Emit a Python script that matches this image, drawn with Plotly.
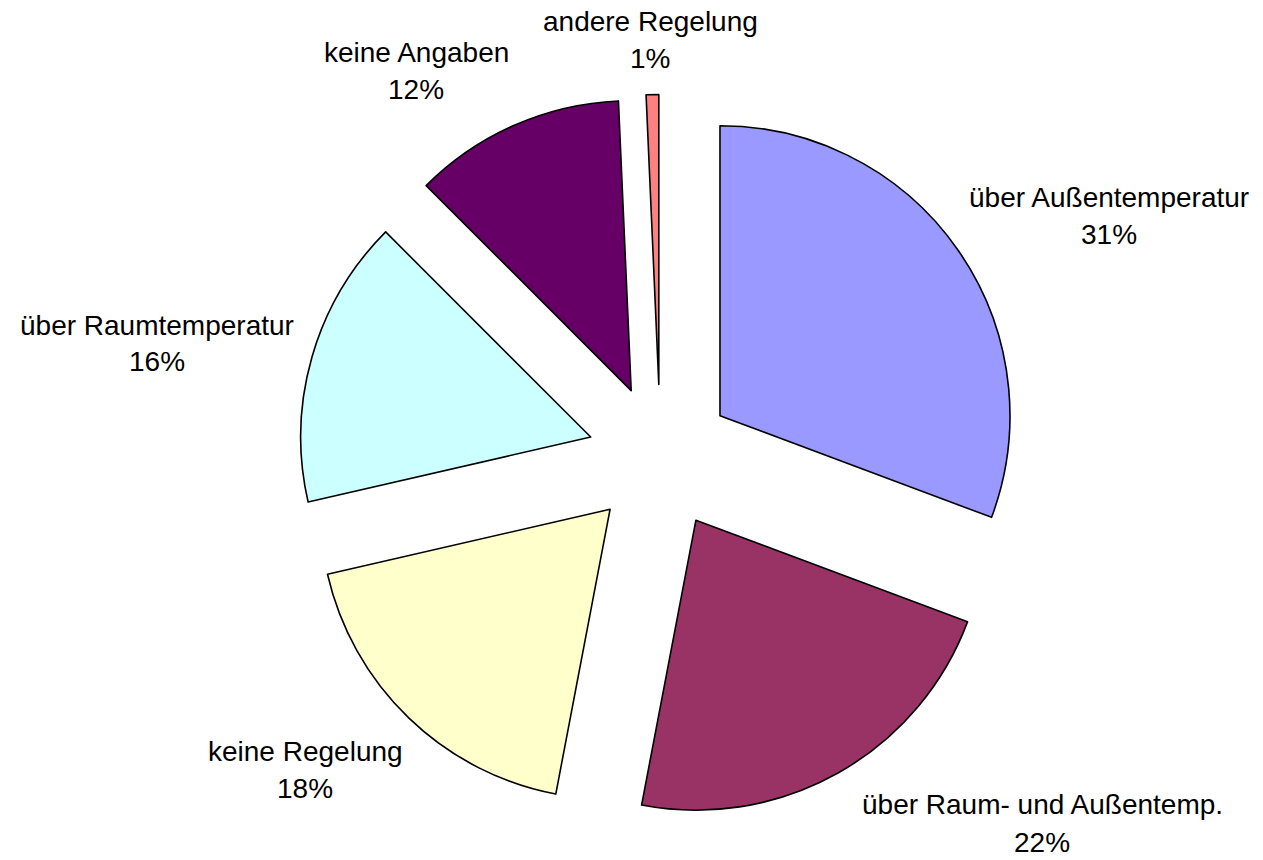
import plotly.graph_objects as go

# Data (shares; labels show rounded percentages)
categories = ["über Außentemperatur", "über Raum- und Außentemp.", "keine Regelung",
              "über Raumtemperatur", "keine Angaben", "andere Regelung"]
values = [30.7, 22.3, 18.4, 16.1, 11.8, 0.7]
colors = ["#9999FF", "#993366", "#FFFFCC", "#CCFFFF", "#660066", "#FF8080"]

# Label layout: pixel centres (in the 1263x860 view) of the name line and percent line
label_x = [1109, 1042, 305, 157, 416, 650]
label_y1 = [197, 804, 751, 326, 53, 22]
label_y2 = [234, 842, 788, 361, 89, 59]

W, H = 1263, 860

# pie geometry (view pixels)
cx, cy, r, pull = 660.4, 457.0, 290.0, 0.25
half = r * (1 + pull)

fig = go.Figure(go.Pie(
    labels=categories,
    values=values,
    sort=False,
    direction="clockwise",
    rotation=0,
    pull=[pull] * len(values),
    marker=dict(colors=colors, line=dict(color="black", width=1.6)),
    textinfo="none",
    hoverinfo="label+percent",
    domain=dict(x=[(cx - half) / W, (cx + half) / W],
                y=[1 - (cy + half) / H, 1 - (cy - half) / H]),
    showlegend=False,
))

total = sum(values)
annotations = []
font = dict(family="Liberation Sans, Arial, sans-serif", size=28, color="black")
for name, v, x, y1, y2 in zip(categories, values, label_x, label_y1, label_y2):
    px = x / W
    annotations.append(dict(x=px, y=1 - y1 / H, xref="paper", yref="paper",
                            text=name, showarrow=False, font=font,
                            xanchor="center", yanchor="middle"))
    annotations.append(dict(x=px, y=1 - y2 / H, xref="paper", yref="paper",
                            text=f"{round(v / total * 100)}%", showarrow=False, font=font,
                            xanchor="center", yanchor="middle"))

fig.update_layout(
    width=W, height=H,
    margin=dict(l=0, r=0, t=0, b=0),
    paper_bgcolor="white",
    plot_bgcolor="white",
    annotations=annotations,
)

fig.write_html("out.html",
               config={"displayModeBar": False},
               post_script="document.body.style.margin='0';document.body.style.overflow='hidden';")
